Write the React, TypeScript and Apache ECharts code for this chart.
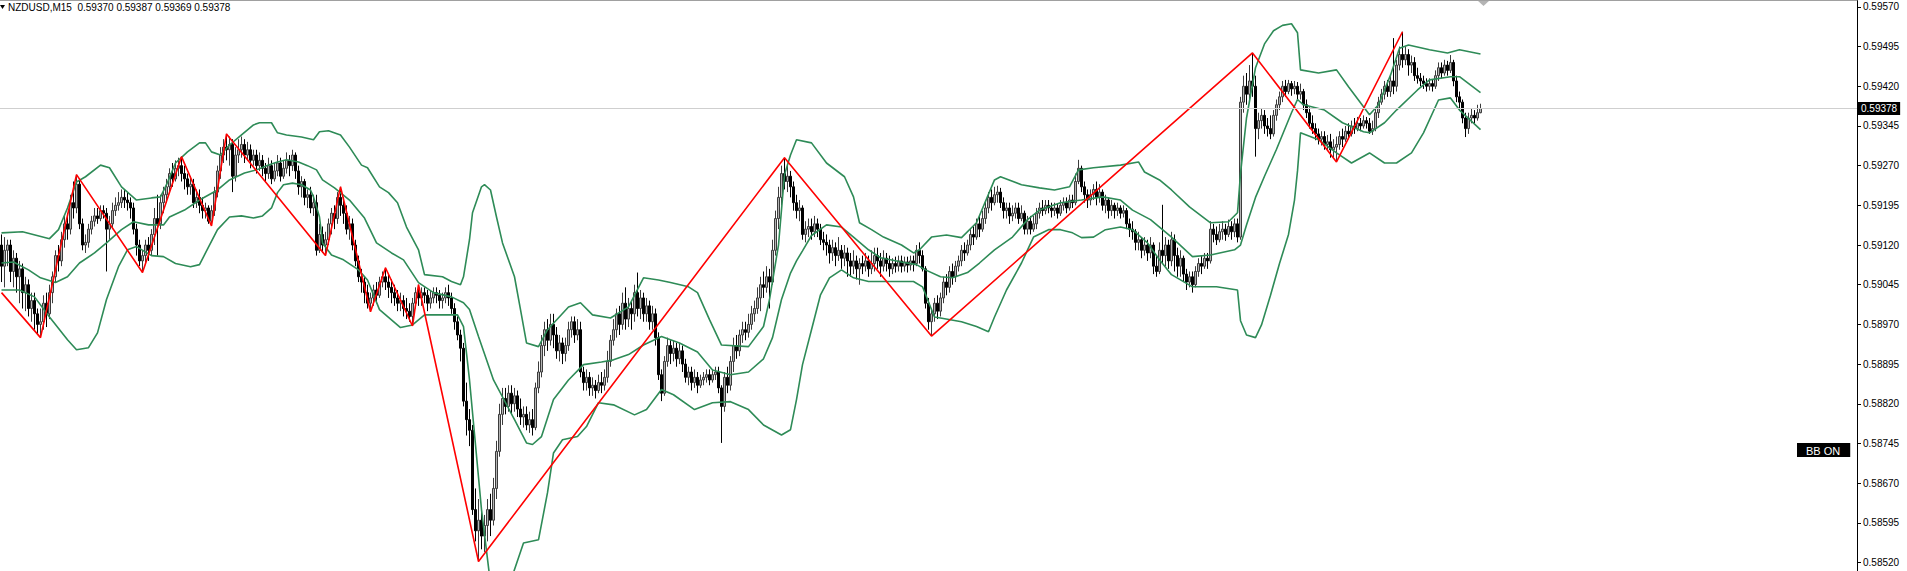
import React, { useEffect, useRef } from "react";
import * as echarts from "echarts";

// ---- chart constants ----
const SYMBOL = "NZDUSD,M15";
const Y_MIN = 0.58504;
const Y_MAX = 0.59583;
const SLOT_COUNT = 619; // bar slots across the plot (right part empty = chart shift)
const PRICE_TICKS = [
  0.5852, 0.58595, 0.5867, 0.58745, 0.5882, 0.58895, 0.5897, 0.59045, 0.5912, 0.59195, 0.5927, 0.59345,
  0.5942, 0.59495, 0.5957,
];

// ---- candles: [open, high, low, close] ----
const CANDLES: number[][] = [
  [0.59120,0.59140,0.59050,0.59080],[0.59080,0.59135,0.59040,0.59110],[0.59110,0.59130,0.59080,0.59120],[0.59120,0.59130,0.59050,0.59070],[0.59070,0.59110,0.59040,0.59095],
  [0.59095,0.59105,0.59030,0.59060],[0.59060,0.59090,0.59010,0.59075],[0.59075,0.59085,0.59000,0.59030],[0.59030,0.59060,0.58995,0.59045],[0.59045,0.59055,0.58985,0.59000],
  [0.59000,0.59030,0.58975,0.59015],[0.59015,0.59030,0.58960,0.58990],[0.58990,0.59000,0.58950,0.58970],[0.58970,0.59000,0.58945,0.58975],[0.58975,0.59025,0.58960,0.59010],
  [0.59010,0.59030,0.58965,0.58990],[0.58990,0.59045,0.58980,0.59030],[0.59030,0.59070,0.59010,0.59060],[0.59060,0.59110,0.59050,0.59100],[0.59100,0.59120,0.59070,0.59090],
  [0.59090,0.59145,0.59080,0.59130],[0.59130,0.59175,0.59115,0.59160],[0.59160,0.59180,0.59130,0.59150],[0.59150,0.59215,0.59140,0.59200],[0.59200,0.59240,0.59170,0.59190],
  [0.59190,0.59253,0.59180,0.59235],[0.59235,0.59245,0.59150,0.59160],[0.59160,0.59170,0.59110,0.59120],[0.59120,0.59140,0.59105,0.59125],[0.59125,0.59160,0.59115,0.59150],
  [0.59150,0.59175,0.59140,0.59165],[0.59165,0.59190,0.59155,0.59175],[0.59175,0.59190,0.59160,0.59170],[0.59170,0.59195,0.59165,0.59185],[0.59185,0.59195,0.59170,0.59180],
  [0.59180,0.59190,0.59070,0.59150],[0.59150,0.59175,0.59130,0.59160],[0.59160,0.59200,0.59150,0.59185],[0.59185,0.59210,0.59175,0.59195],[0.59195,0.59220,0.59185,0.59200],
  [0.59200,0.59225,0.59190,0.59210],[0.59210,0.59225,0.59190,0.59205],[0.59205,0.59220,0.59185,0.59200],[0.59200,0.59210,0.59170,0.59190],[0.59190,0.59200,0.59140,0.59150],
  [0.59150,0.59160,0.59100,0.59120],[0.59120,0.59130,0.59080,0.59090],[0.59090,0.59110,0.59068,0.59100],[0.59100,0.59130,0.59085,0.59120],[0.59120,0.59135,0.59090,0.59110],
  [0.59110,0.59150,0.59100,0.59140],[0.59140,0.59190,0.59120,0.59170],[0.59170,0.59215,0.59100,0.59160],[0.59160,0.59215,0.59150,0.59200],[0.59200,0.59230,0.59180,0.59215],
  [0.59215,0.59245,0.59200,0.59230],[0.59230,0.59265,0.59220,0.59255],[0.59255,0.59275,0.59230,0.59245],[0.59245,0.59280,0.59240,0.59265],[0.59265,0.59285,0.59250,0.59270],
  [0.59270,0.59287,0.59240,0.59255],[0.59255,0.59270,0.59225,0.59245],[0.59245,0.59255,0.59215,0.59230],[0.59230,0.59250,0.59215,0.59235],[0.59235,0.59245,0.59190,0.59200],
  [0.59200,0.59225,0.59190,0.59210],[0.59210,0.59225,0.59180,0.59195],[0.59195,0.59210,0.59170,0.59185],[0.59185,0.59200,0.59170,0.59190],[0.59190,0.59195,0.59160,0.59165],
  [0.59165,0.59195,0.59156,0.59185],[0.59185,0.59230,0.59175,0.59220],[0.59220,0.59270,0.59210,0.59260],[0.59260,0.59305,0.59245,0.59290],[0.59290,0.59320,0.59275,0.59305],
  [0.59305,0.59330,0.59280,0.59300],[0.59300,0.59325,0.59270,0.59310],[0.59310,0.59320,0.59220,0.59250],[0.59250,0.59305,0.59240,0.59290],[0.59290,0.59320,0.59275,0.59300],
  [0.59300,0.59325,0.59285,0.59310],[0.59310,0.59320,0.59275,0.59290],[0.59290,0.59315,0.59280,0.59300],[0.59300,0.59310,0.59265,0.59280],[0.59280,0.59300,0.59270,0.59290],
  [0.59290,0.59300,0.59255,0.59270],[0.59270,0.59295,0.59260,0.59280],[0.59280,0.59290,0.59250,0.59265],[0.59265,0.59275,0.59240,0.59255],[0.59255,0.59285,0.59245,0.59270],
  [0.59270,0.59280,0.59235,0.59245],[0.59245,0.59275,0.59240,0.59260],[0.59260,0.59290,0.59250,0.59275],[0.59275,0.59285,0.59240,0.59250],[0.59250,0.59280,0.59245,0.59265],
  [0.59265,0.59295,0.59255,0.59280],[0.59280,0.59290,0.59250,0.59270],[0.59270,0.59300,0.59260,0.59290],[0.59290,0.59295,0.59245,0.59260],[0.59260,0.59270,0.59215,0.59230],
  [0.59230,0.59250,0.59210,0.59240],[0.59240,0.59245,0.59195,0.59210],[0.59210,0.59225,0.59190,0.59215],[0.59215,0.59230,0.59180,0.59190],[0.59190,0.59215,0.59175,0.59200],
  [0.59200,0.59215,0.59100,0.59110],[0.59110,0.59160,0.59105,0.59140],[0.59140,0.59155,0.59105,0.59120],[0.59120,0.59145,0.59100,0.59130],[0.59130,0.59170,0.59120,0.59160],
  [0.59160,0.59190,0.59140,0.59180],[0.59180,0.59195,0.59150,0.59170],[0.59170,0.59220,0.59160,0.59210],[0.59210,0.59230,0.59175,0.59195],[0.59195,0.59210,0.59160,0.59180],
  [0.59180,0.59195,0.59140,0.59150],[0.59150,0.59175,0.59130,0.59160],[0.59160,0.59170,0.59110,0.59120],[0.59120,0.59130,0.59080,0.59090],[0.59090,0.59100,0.59050,0.59060],
  [0.59060,0.59075,0.59030,0.59050],[0.59050,0.59060,0.59010,0.59030],[0.59030,0.59045,0.59000,0.59010],[0.59010,0.59030,0.58994,0.59020],[0.59020,0.59045,0.59005,0.59035],
  [0.59035,0.59050,0.59010,0.59025],[0.59025,0.59060,0.59020,0.59050],[0.59050,0.59070,0.59040,0.59060],[0.59060,0.59077,0.59035,0.59050],[0.59050,0.59065,0.59020,0.59040],
  [0.59040,0.59055,0.59010,0.59030],[0.59030,0.59045,0.59005,0.59020],[0.59020,0.59035,0.58995,0.59010],[0.59010,0.59030,0.58995,0.59015],[0.59015,0.59025,0.58985,0.59000],
  [0.59000,0.59020,0.58980,0.58995],[0.58995,0.59010,0.58975,0.58985],[0.58985,0.59020,0.58967,0.59010],[0.59010,0.59040,0.59000,0.59030],[0.59030,0.59045,0.59005,0.59020],
  [0.59020,0.59040,0.59005,0.59030],[0.59030,0.59040,0.59010,0.59025],[0.59025,0.59035,0.58995,0.59010],[0.59010,0.59035,0.59000,0.59020],[0.59020,0.59040,0.59010,0.59030],
  [0.59030,0.59040,0.59010,0.59025],[0.59025,0.59035,0.59000,0.59015],[0.59015,0.59030,0.59000,0.59020],[0.59020,0.59040,0.59010,0.59030],[0.59030,0.59045,0.59005,0.59020],
  [0.59020,0.59030,0.58990,0.59000],[0.59000,0.59010,0.58960,0.58975],[0.58975,0.58985,0.58940,0.58950],[0.58950,0.58960,0.58900,0.58925],[0.58925,0.58935,0.58815,0.58825],
  [0.58825,0.58860,0.58760,0.58790],[0.58790,0.58810,0.58740,0.58770],[0.58770,0.58780,0.58610,0.58620],[0.58620,0.58660,0.58560,0.58580],[0.58580,0.58640,0.58522,0.58600],
  [0.58600,0.58620,0.58545,0.58570],[0.58570,0.58610,0.58540,0.58590],[0.58590,0.58640,0.58560,0.58620],[0.58620,0.58650,0.58570,0.58600],[0.58600,0.58680,0.58590,0.58660],
  [0.58660,0.58750,0.58640,0.58730],[0.58730,0.58820,0.58720,0.58800],[0.58800,0.58850,0.58780,0.58830],[0.58830,0.58850,0.58800,0.58815],[0.58815,0.58855,0.58805,0.58840],
  [0.58840,0.58855,0.58800,0.58820],[0.58820,0.58850,0.58805,0.58835],[0.58835,0.58845,0.58795,0.58810],[0.58810,0.58830,0.58780,0.58795],[0.58795,0.58815,0.58775,0.58800],
  [0.58800,0.58815,0.58770,0.58780],[0.58780,0.58805,0.58765,0.58790],[0.58790,0.58810,0.58760,0.58775],[0.58775,0.58860,0.58770,0.58850],[0.58850,0.58900,0.58840,0.58880],
  [0.58880,0.58950,0.58870,0.58930],[0.58930,0.58975,0.58910,0.58960],[0.58960,0.58980,0.58920,0.58940],[0.58940,0.58990,0.58930,0.58970],[0.58970,0.58990,0.58925,0.58950],
  [0.58950,0.58965,0.58905,0.58920],[0.58920,0.58950,0.58900,0.58935],[0.58935,0.58945,0.58895,0.58915],[0.58915,0.58945,0.58900,0.58930],[0.58930,0.58975,0.58920,0.58960],
  [0.58960,0.58985,0.58945,0.58975],[0.58975,0.58985,0.58935,0.58950],[0.58950,0.58980,0.58940,0.58960],[0.58960,0.58975,0.58870,0.58880],[0.58880,0.58890,0.58845,0.58860],
  [0.58860,0.58885,0.58845,0.58870],[0.58870,0.58880,0.58835,0.58850],[0.58850,0.58870,0.58835,0.58855],[0.58855,0.58865,0.58830,0.58845],[0.58845,0.58875,0.58840,0.58860],
  [0.58860,0.58880,0.58840,0.58855],[0.58855,0.58885,0.58845,0.58870],[0.58870,0.58920,0.58860,0.58900],[0.58900,0.58950,0.58890,0.58940],[0.58940,0.58980,0.58930,0.58960],
  [0.58960,0.59000,0.58945,0.58990],[0.58990,0.59005,0.58950,0.58970],[0.58970,0.59030,0.58960,0.59010],[0.59010,0.59040,0.58960,0.58980],[0.58980,0.59020,0.58965,0.59000],
  [0.59000,0.59015,0.58960,0.58990],[0.58990,0.59045,0.58975,0.59030],[0.59030,0.59068,0.58985,0.59000],[0.59000,0.59035,0.58980,0.59020],[0.59020,0.59030,0.58975,0.58990],
  [0.58990,0.59020,0.58975,0.59005],[0.59005,0.59015,0.58960,0.58975],[0.58975,0.59005,0.58960,0.58990],[0.58990,0.59000,0.58930,0.58945],[0.58945,0.58955,0.58865,0.58875],
  [0.58875,0.58885,0.58825,0.58840],[0.58840,0.58910,0.58835,0.58900],[0.58900,0.58945,0.58890,0.58930],[0.58930,0.58940,0.58895,0.58915],[0.58915,0.58940,0.58900,0.58925],
  [0.58925,0.58935,0.58890,0.58905],[0.58905,0.58935,0.58895,0.58920],[0.58920,0.58930,0.58880,0.58895],[0.58895,0.58905,0.58860,0.58870],[0.58870,0.58890,0.58855,0.58880],
  [0.58880,0.58890,0.58845,0.58860],[0.58860,0.58885,0.58850,0.58870],[0.58870,0.58880,0.58840,0.58855],[0.58855,0.58875,0.58850,0.58865],[0.58865,0.58880,0.58855,0.58870],
  [0.58870,0.58885,0.58860,0.58875],[0.58875,0.58885,0.58855,0.58865],[0.58865,0.58885,0.58860,0.58875],[0.58875,0.58890,0.58865,0.58880],[0.58880,0.58890,0.58840,0.58850],
  [0.58850,0.58855,0.58746,0.58815],[0.58815,0.58880,0.58805,0.58870],[0.58870,0.58890,0.58840,0.58855],[0.58855,0.58910,0.58845,0.58900],[0.58900,0.58945,0.58880,0.58930],
  [0.58930,0.58950,0.58905,0.58920],[0.58920,0.58960,0.58910,0.58950],[0.58950,0.58975,0.58935,0.58960],[0.58960,0.58975,0.58940,0.58955],[0.58955,0.58990,0.58945,0.58970],
  [0.58970,0.59005,0.58960,0.58990],[0.58990,0.59015,0.58975,0.59000],[0.59000,0.59040,0.58990,0.59020],[0.59020,0.59060,0.58995,0.59045],[0.59045,0.59070,0.59020,0.59040],
  [0.59040,0.59080,0.59030,0.59060],[0.59060,0.59075,0.59000,0.59050],[0.59050,0.59130,0.59045,0.59110],[0.59110,0.59185,0.59100,0.59170],[0.59170,0.59230,0.59150,0.59210],
  [0.59210,0.59270,0.59195,0.59255],[0.59255,0.59285,0.59225,0.59240],[0.59240,0.59270,0.59220,0.59250],[0.59250,0.59260,0.59210,0.59230],[0.59230,0.59240,0.59185,0.59200],
  [0.59200,0.59215,0.59170,0.59185],[0.59185,0.59205,0.59165,0.59190],[0.59190,0.59195,0.59130,0.59140],[0.59140,0.59165,0.59125,0.59150],[0.59150,0.59170,0.59135,0.59155],
  [0.59155,0.59170,0.59130,0.59145],[0.59145,0.59175,0.59135,0.59160],[0.59160,0.59170,0.59135,0.59150],[0.59150,0.59160,0.59120,0.59130],[0.59130,0.59145,0.59110,0.59125],
  [0.59125,0.59140,0.59100,0.59120],[0.59120,0.59130,0.59085,0.59105],[0.59105,0.59130,0.59090,0.59115],[0.59115,0.59125,0.59080,0.59100],[0.59100,0.59135,0.59090,0.59110],
  [0.59110,0.59120,0.59075,0.59095],[0.59095,0.59120,0.59080,0.59105],[0.59105,0.59115,0.59060,0.59090],[0.59090,0.59105,0.59060,0.59080],[0.59080,0.59110,0.59065,0.59090],
  [0.59090,0.59100,0.59055,0.59075],[0.59075,0.59095,0.59045,0.59085],[0.59085,0.59100,0.59065,0.59080],[0.59080,0.59105,0.59070,0.59090],[0.59090,0.59100,0.59060,0.59075],
  [0.59075,0.59110,0.59065,0.59085],[0.59085,0.59115,0.59070,0.59100],[0.59100,0.59115,0.59075,0.59090],[0.59090,0.59105,0.59060,0.59080],[0.59080,0.59110,0.59070,0.59095],
  [0.59095,0.59105,0.59070,0.59085],[0.59085,0.59100,0.59060,0.59075],[0.59075,0.59095,0.59065,0.59085],[0.59085,0.59098,0.59068,0.59080],[0.59080,0.59100,0.59070,0.59090],
  [0.59090,0.59100,0.59068,0.59080],[0.59080,0.59098,0.59070,0.59088],[0.59088,0.59098,0.59068,0.59082],[0.59082,0.59100,0.59072,0.59090],[0.59090,0.59100,0.59070,0.59085],
  [0.59085,0.59120,0.59080,0.59110],[0.59110,0.59125,0.59085,0.59100],[0.59100,0.59110,0.59070,0.59075],[0.59075,0.59080,0.59000,0.59010],[0.59010,0.59020,0.58960,0.58975],
  [0.58975,0.59000,0.58948,0.58990],[0.58990,0.59020,0.58975,0.59010],[0.59010,0.59025,0.58980,0.58995],[0.58995,0.59030,0.58985,0.59020],[0.59020,0.59060,0.59010,0.59050],
  [0.59050,0.59065,0.59025,0.59040],[0.59040,0.59080,0.59030,0.59070],[0.59070,0.59085,0.59045,0.59060],[0.59060,0.59090,0.59050,0.59080],[0.59080,0.59100,0.59070,0.59090],
  [0.59090,0.59120,0.59080,0.59110],[0.59110,0.59125,0.59090,0.59105],[0.59105,0.59130,0.59100,0.59120],[0.59120,0.59150,0.59110,0.59140],[0.59140,0.59155,0.59120,0.59135],
  [0.59135,0.59170,0.59130,0.59160],[0.59160,0.59175,0.59135,0.59150],[0.59150,0.59185,0.59145,0.59170],[0.59170,0.59205,0.59160,0.59190],[0.59190,0.59220,0.59180,0.59210],
  [0.59210,0.59225,0.59185,0.59200],[0.59200,0.59230,0.59195,0.59215],[0.59215,0.59232,0.59200,0.59220],[0.59220,0.59228,0.59190,0.59200],[0.59200,0.59210,0.59170,0.59185],
  [0.59185,0.59200,0.59170,0.59190],[0.59190,0.59200,0.59160,0.59175],[0.59175,0.59195,0.59165,0.59180],[0.59180,0.59200,0.59170,0.59190],[0.59190,0.59200,0.59160,0.59170],
  [0.59170,0.59195,0.59165,0.59180],[0.59180,0.59185,0.59140,0.59150],[0.59150,0.59175,0.59140,0.59165],[0.59165,0.59175,0.59140,0.59150],[0.59150,0.59175,0.59145,0.59160],
  [0.59160,0.59190,0.59150,0.59180],[0.59180,0.59200,0.59170,0.59190],[0.59190,0.59205,0.59175,0.59185],[0.59185,0.59205,0.59178,0.59195],[0.59195,0.59205,0.59180,0.59190],
  [0.59190,0.59200,0.59172,0.59185],[0.59185,0.59200,0.59175,0.59190],[0.59190,0.59198,0.59170,0.59180],[0.59180,0.59205,0.59175,0.59195],[0.59195,0.59210,0.59185,0.59200],
  [0.59200,0.59210,0.59180,0.59190],[0.59190,0.59215,0.59185,0.59205],[0.59205,0.59215,0.59190,0.59200],[0.59200,0.59255,0.59195,0.59240],[0.59240,0.59281,0.59235,0.59265],
  [0.59265,0.59270,0.59220,0.59230],[0.59230,0.59240,0.59200,0.59215],[0.59215,0.59225,0.59190,0.59205],[0.59205,0.59225,0.59195,0.59215],[0.59215,0.59235,0.59205,0.59225],
  [0.59225,0.59240,0.59195,0.59210],[0.59210,0.59235,0.59200,0.59220],[0.59220,0.59225,0.59185,0.59195],[0.59195,0.59215,0.59180,0.59205],[0.59205,0.59210,0.59170,0.59185],
  [0.59185,0.59205,0.59175,0.59195],[0.59195,0.59200,0.59170,0.59185],[0.59185,0.59200,0.59175,0.59190],[0.59190,0.59195,0.59170,0.59180],[0.59180,0.59195,0.59172,0.59185],
  [0.59185,0.59190,0.59150,0.59160],[0.59160,0.59170,0.59135,0.59150],[0.59150,0.59165,0.59130,0.59145],[0.59145,0.59150,0.59110,0.59125],[0.59125,0.59145,0.59110,0.59130],
  [0.59130,0.59135,0.59095,0.59110],[0.59110,0.59135,0.59100,0.59120],[0.59120,0.59130,0.59090,0.59105],[0.59105,0.59135,0.59095,0.59120],[0.59120,0.59125,0.59065,0.59080],
  [0.59080,0.59100,0.59060,0.59070],[0.59070,0.59125,0.59065,0.59110],[0.59110,0.59196,0.59085,0.59100],[0.59100,0.59135,0.59080,0.59120],[0.59120,0.59130,0.59075,0.59090],
  [0.59090,0.59145,0.59080,0.59130],[0.59130,0.59140,0.59070,0.59100],[0.59100,0.59115,0.59060,0.59080],[0.59080,0.59110,0.59060,0.59095],[0.59095,0.59100,0.59050,0.59065],
  [0.59065,0.59075,0.59035,0.59050],[0.59050,0.59070,0.59040,0.59060],[0.59060,0.59070,0.59030,0.59045],[0.59045,0.59080,0.59040,0.59070],[0.59070,0.59095,0.59060,0.59085],
  [0.59085,0.59100,0.59065,0.59080],[0.59080,0.59105,0.59075,0.59095],[0.59095,0.59105,0.59075,0.59090],[0.59090,0.59165,0.59085,0.59150],[0.59150,0.59160,0.59125,0.59140],
  [0.59140,0.59155,0.59120,0.59130],[0.59130,0.59160,0.59125,0.59145],[0.59145,0.59165,0.59130,0.59150],[0.59150,0.59160,0.59128,0.59140],[0.59140,0.59168,0.59135,0.59155],
  [0.59155,0.59165,0.59130,0.59145],[0.59145,0.59170,0.59135,0.59160],[0.59160,0.59170,0.59125,0.59135],[0.59135,0.59400,0.59130,0.59390],[0.59390,0.59440,0.59370,0.59420],
  [0.59420,0.59445,0.59385,0.59405],[0.59405,0.59460,0.59395,0.59430],[0.59430,0.59483,0.59400,0.59420],[0.59420,0.59440,0.59287,0.59340],[0.59340,0.59370,0.59320,0.59355],
  [0.59355,0.59378,0.59340,0.59365],[0.59365,0.59375,0.59330,0.59345],[0.59345,0.59360,0.59325,0.59340],[0.59340,0.59365,0.59320,0.59330],[0.59330,0.59375,0.59325,0.59365],
  [0.59365,0.59395,0.59355,0.59385],[0.59385,0.59410,0.59375,0.59400],[0.59400,0.59430,0.59390,0.59420],[0.59420,0.59432,0.59400,0.59410],[0.59410,0.59432,0.59405,0.59425],
  [0.59425,0.59430,0.59402,0.59415],[0.59415,0.59430,0.59405,0.59420],[0.59420,0.59428,0.59395,0.59405],[0.59405,0.59425,0.59395,0.59410],[0.59410,0.59415,0.59375,0.59385],
  [0.59385,0.59395,0.59360,0.59370],[0.59370,0.59380,0.59340,0.59350],[0.59350,0.59365,0.59330,0.59340],[0.59340,0.59350,0.59318,0.59330],[0.59330,0.59340,0.59310,0.59320],
  [0.59320,0.59335,0.59308,0.59325],[0.59325,0.59335,0.59300,0.59310],[0.59310,0.59328,0.59300,0.59315],[0.59315,0.59330,0.59285,0.59300],[0.59300,0.59320,0.59285,0.59305],
  [0.59305,0.59325,0.59277,0.59310],[0.59310,0.59335,0.59300,0.59325],[0.59325,0.59340,0.59305,0.59320],[0.59320,0.59345,0.59315,0.59335],[0.59335,0.59350,0.59320,0.59330],
  [0.59330,0.59355,0.59325,0.59345],[0.59345,0.59360,0.59330,0.59340],[0.59340,0.59362,0.59335,0.59350],[0.59350,0.59360,0.59335,0.59345],[0.59345,0.59365,0.59340,0.59355],
  [0.59355,0.59362,0.59340,0.59350],[0.59350,0.59360,0.59330,0.59335],[0.59335,0.59355,0.59328,0.59340],[0.59340,0.59380,0.59335,0.59370],[0.59370,0.59400,0.59360,0.59390],
  [0.59390,0.59415,0.59385,0.59405],[0.59405,0.59430,0.59395,0.59420],[0.59420,0.59432,0.59400,0.59410],[0.59410,0.59440,0.59400,0.59430],[0.59430,0.59511,0.59405,0.59420],
  [0.59420,0.59470,0.59410,0.59460],[0.59460,0.59495,0.59450,0.59480],[0.59480,0.59523,0.59455,0.59470],[0.59470,0.59495,0.59460,0.59480],[0.59480,0.59490,0.59440,0.59460],
  [0.59460,0.59478,0.59445,0.59465],[0.59465,0.59475,0.59430,0.59440],[0.59440,0.59455,0.59425,0.59435],[0.59435,0.59445,0.59420,0.59430],[0.59430,0.59440,0.59415,0.59425],
  [0.59425,0.59435,0.59410,0.59420],[0.59420,0.59435,0.59412,0.59425],[0.59425,0.59432,0.59410,0.59420],[0.59420,0.59450,0.59415,0.59440],[0.59440,0.59465,0.59430,0.59455],
  [0.59455,0.59465,0.59435,0.59445],[0.59445,0.59470,0.59440,0.59460],[0.59460,0.59468,0.59440,0.59450],[0.59450,0.59479,0.59445,0.59465],[0.59465,0.59470,0.59420,0.59430],
  [0.59430,0.59440,0.59390,0.59400],[0.59400,0.59410,0.59375,0.59390],[0.59390,0.59395,0.59350,0.59360],[0.59360,0.59370,0.59324,0.59340],[0.59340,0.59370,0.59330,0.59360],
  [0.59360,0.59378,0.59350,0.59365],[0.59365,0.59375,0.59350,0.59360],[0.59360,0.59385,0.59355,0.59370],[0.59370,0.59387,0.59369,0.59378],
];

// ---- ZigZag pivots: [bar index, price] ----
const ZIGZAG: number[][] = [
  [0, 0.5903], [13, 0.58945], [25, 0.59253], [47, 0.59068], [60, 0.59287], [70, 0.59156], [75, 0.5933],
  [108, 0.591], [113, 0.5923], [123, 0.58994], [128, 0.59077], [137, 0.58967], [139, 0.59045], [159, 0.58522],
  [261, 0.59285], [310, 0.58948], [417, 0.59483], [445, 0.59277], [467, 0.59523],
];

// ---- Bollinger bands: [bar index, price] ----
const BB_UPPER: number[][] = [
  [0,0.59143],[7,0.59145],[16,0.59132],[19,0.59149],[22,0.5919],[25,0.59239],[28,0.59249],[33,0.59271],[36,0.59266],[40,0.5923],
  [45,0.59205],[50,0.59209],[53,0.59211],[55,0.59234],[58,0.59275],[62,0.59296],[66,0.59313],[68,0.59313],[70,0.59296],[73,0.5929],
  [76,0.59309],[80,0.59328],[84,0.59347],[86,0.59351],[90,0.59351],[92,0.59332],[95,0.59328],[100,0.59324],[104,0.59319],[106,0.59334],
  [109,0.59336],[113,0.59328],[116,0.59305],[120,0.59271],[122,0.59266],[126,0.5923],[129,0.59219],[132,0.592],[135,0.59154],[139,0.59111],
  [141,0.59064],[147,0.5906],[150,0.59051],[153,0.59045],[154,0.5906],[156,0.5913],[157,0.59181],[160,0.5923],[161,0.59234],[163,0.59224],
  [165,0.59173],[167,0.59124],[171,0.5906],[173,0.58998],[175,0.58935],[179,0.58928],[182,0.5896],[189,0.59003],[193,0.59011],[197,0.58988],
  [203,0.58982],[209,0.59003],[214,0.59058],[219,0.59054],[223,0.59049],[229,0.59041],[232,0.5903],[236,0.58979],[240,0.58931],[249,0.58928],
  [254,0.58966],[256,0.59017],[259,0.5912],[261,0.59253],[263,0.5929],[265,0.59319],[270,0.59313],[275,0.59275],[281,0.59249],[284,0.59211],
  [286,0.59162],[290,0.59149],[294,0.59135],[300,0.5912],[304,0.59105],[306,0.59111],[310,0.59135],[315,0.59139],[320,0.59134],[325,0.59162],
  [331,0.59243],[333,0.59249],[340,0.59234],[346,0.59228],[351,0.59224],[356,0.5923],[359,0.59262],[364,0.59266],[373,0.59271],[379,0.59277],
  [381,0.59258],[386,0.59243],[390,0.59224],[396,0.59192],[403,0.59162],[409,0.59164],[412,0.59181],[413,0.59255],[415,0.5936],[418,0.59455],
  [421,0.595],[424,0.59525],[427,0.59535],[430,0.59538],[432,0.59521],[433,0.59451],[439,0.59445],[445,0.59451],[449,0.59419],[456,0.59366],
  [459,0.59385],[463,0.59441],[466,0.59492],[469,0.59498],[476,0.59489],[482,0.59483],[486,0.59489],[493,0.59481],
];
const BB_MIDDLE: number[][] = [
  [0,0.59086],[4,0.59088],[9,0.59073],[13,0.59058],[18,0.59049],[22,0.5906],[26,0.59086],[31,0.59105],[35,0.59124],[40,0.59149],
  [44,0.59164],[49,0.59158],[54,0.59158],[56,0.59173],[61,0.59186],[66,0.59205],[72,0.59224],[76,0.59243],[81,0.59256],[85,0.59262],
  [89,0.59271],[92,0.59277],[95,0.59281],[99,0.59277],[102,0.5927],[105,0.59262],[107,0.59243],[111,0.59228],[116,0.59205],[121,0.59171],
  [125,0.59124],[130,0.59105],[134,0.59092],[139,0.59049],[144,0.5903],[150,0.59022],[154,0.59011],[156,0.58998],[159,0.58947],[164,0.58865],
  [171,0.5879],[175,0.58746],[177,0.58743],[180,0.58758],[184,0.58828],[189,0.58865],[194,0.58894],[200,0.58899],[204,0.58903],[209,0.58913],
  [214,0.58931],[220,0.58947],[226,0.58935],[232,0.58918],[237,0.58884],[243,0.58875],[249,0.5888],[254,0.58905],[257,0.58945],[260,0.59017],
  [263,0.59067],[265,0.5909],[267,0.59109],[270,0.59138],[275,0.59158],[280,0.59154],[284,0.59135],[289,0.59111],[293,0.59096],[300,0.59088],
  [305,0.59083],[308,0.59073],[313,0.5906],[317,0.59058],[322,0.59068],[326,0.59086],[331,0.59111],[337,0.59135],[342,0.59168],[346,0.59186],
  [353,0.592],[360,0.59205],[367,0.59211],[373,0.59205],[377,0.59186],[383,0.59168],[386,0.59154],[390,0.59135],[397,0.59098],[403,0.59101],
  [411,0.59111],[413,0.5912],[415,0.59158],[418,0.5921],[421,0.5925],[425,0.59301],[430,0.5937],[432,0.59395],[434,0.59385],[441,0.59375],
  [447,0.59351],[454,0.59334],[456,0.59332],[461,0.59351],[465,0.59375],[472,0.59413],[476,0.59432],[483,0.59438],[486,0.59438],[493,0.59408],
];
const BB_LOWER: number[][] = [
  [0,0.59035],[6,0.59035],[11,0.59022],[16,0.58984],[22,0.58941],[25,0.58922],[29,0.58926],[32,0.58954],[35,0.59017],[39,0.59079],
  [42,0.59111],[45,0.59117],[50,0.591],[54,0.59098],[58,0.59085],[63,0.59079],[66,0.59083],[68,0.59105],[72,0.59149],[76,0.59173],
  [80,0.59175],[84,0.59171],[87,0.59175],[90,0.5919],[92,0.59219],[94,0.59234],[97,0.59237],[100,0.59234],[103,0.59224],[104,0.59211],
  [106,0.59173],[107,0.59124],[110,0.59101],[114,0.59092],[119,0.59073],[122,0.59054],[126,0.58998],[133,0.58964],[137,0.58969],[141,0.58988],
  [152,0.58988],[154,0.58966],[156,0.58865],[160,0.5862],[163,0.5848],[166,0.5842],[170,0.5849],[174,0.58557],[179,0.58563],[182,0.58652],
  [184,0.58727],[187,0.58752],[192,0.58758],[195,0.58777],[199,0.58822],[204,0.58818],[211,0.58799],[215,0.58809],[220,0.58847],[224,0.58837],
  [231,0.58809],[237,0.58822],[243,0.58824],[249,0.58809],[254,0.5878],[260,0.58761],[263,0.58771],[265,0.58828],[267,0.58894],[270,0.5896],
  [273,0.59026],[276,0.59058],[280,0.59073],[284,0.59058],[289,0.59051],[297,0.59051],[304,0.59051],[307,0.59041],[311,0.58984],[313,0.58982],
  [320,0.58975],[325,0.58966],[329,0.58956],[331,0.58984],[335,0.59035],[340,0.59086],[344,0.59135],[349,0.59149],[353,0.59149],[357,0.59143],
  [360,0.59134],[364,0.59135],[368,0.59149],[373,0.59154],[377,0.59149],[382,0.59124],[386,0.59092],[390,0.59064],[397,0.59041],[405,0.59041],
  [412,0.59035],[413,0.58977],[415,0.5895],[418,0.58945],[420,0.58969],[423,0.59025],[426,0.59085],[429,0.5914],[431,0.59205],[432,0.5926],
  [433,0.59332],[439,0.59319],[445,0.59294],[450,0.59275],[456,0.59294],[461,0.59275],[465,0.59275],[470,0.59294],[474,0.59332],[479,0.59394],
  [483,0.59398],[486,0.59375],[493,0.59338],
];

const FONT = "Liberation Sans, Arial, sans-serif";

export default function App() {
  const ref = useRef<HTMLDivElement>(null);

  useEffect(() => {
    if (!ref.current) return;
    const chart = echarts.init(ref.current, null, { renderer: "svg" });
    const categories = Array.from({ length: SLOT_COUNT }, (_, i) => String(i));
    const candleData = CANDLES.map(([o, h, l, c]) => [o, c, l, h]);
    const last = CANDLES[CANDLES.length - 1];
    const currentPrice = last[3];
    const title = `${SYMBOL}  ${last.map((v) => v.toFixed(5)).join(" ")}`;

    const bandSeries = (name: string, data: number[][]) => ({
      name,
      type: "line",
      data,
      symbol: "none",
      showSymbol: false,
      silent: true,
      z: 3,
      lineStyle: { color: "#2e8b57", width: 1.6 },
    });

    chart.setOption({
      animation: false,
      backgroundColor: "#ffffff",
      grid: { left: 0, right: 50, top: 0, bottom: 0, containLabel: false },
      xAxis: {
        type: "category",
        data: categories,
        position: "top",
        boundaryGap: true,
        axisLine: { show: true, onZero: false, lineStyle: { color: "#a0a0a0", width: 1 } },
        axisTick: { show: false },
        axisLabel: { show: false },
        splitLine: { show: false },
      },
      yAxis: {
        type: "value",
        position: "right",
        min: Y_MIN,
        max: Y_MAX,
        axisLine: { show: true, lineStyle: { color: "#000", width: 1 } },
        axisTick: { show: true, length: 4, customValues: PRICE_TICKS, lineStyle: { color: "#000" } },
        axisLabel: {
          show: true,
          customValues: PRICE_TICKS,
          formatter: (v: number) => v.toFixed(5),
          color: "#000",
          fontSize: 10,
          fontFamily: FONT,
          margin: 6,
        },
        splitLine: { show: false },
      },
      series: [
        {
          name: "Bid line",
          type: "line",
          data: [],
          symbol: "none",
          silent: true,
          z: 1,
          markLine: {
            silent: true,
            precision: 5,
            symbol: ["none", "none"],
            data: [{ yAxis: currentPrice }],
            lineStyle: { color: "#cfcfcf", type: "solid", width: 1 },
            label: {
              show: true,
              position: "end",
              distance: 1,
              formatter: currentPrice.toFixed(5),
              color: "#ffffff",
              backgroundColor: "#000000",
              padding: [2, 3, 1, 3],
              fontSize: 10,
              fontFamily: FONT,
            },
          },
        },
        {
          name: SYMBOL,
          type: "candlestick",
          data: candleData,
          barWidth: 1.8,
          silent: true,
          z: 2,
          itemStyle: {
            color: "#b4b4b4",
            color0: "#000000",
            borderColor: "#3c3c3c",
            borderColor0: "#000000",
            borderWidth: 1,
          },
        },
        bandSeries("BB upper", BB_UPPER),
        bandSeries("BB middle", BB_MIDDLE),
        bandSeries("BB lower", BB_LOWER),
        {
          name: "ZigZag",
          type: "line",
          data: ZIGZAG,
          symbol: "none",
          showSymbol: false,
          silent: true,
          z: 4,
          lineStyle: { color: "#ff0000", width: 1.6 },
        },
      ],
      graphic: [
        {
          type: "polygon",
          shape: { points: [[0, 5], [5, 5], [2.5, 9]] },
          style: { fill: "#000" },
          silent: true,
        },
        {
          type: "text",
          x: 8,
          y: 2,
          style: { text: title, fill: "#000", fontSize: 10, fontFamily: FONT },
          silent: true,
        },
        {
          type: "polygon",
          shape: { points: [[1477, 0], [1490, 0], [1483.5, 6]] },
          style: { fill: "#b4b4b4" },
          silent: true,
        },
        {
          type: "text",
          x: 1797,
          y: 443,
          style: {
            text: "BB ON",
            fill: "#ffffff",
            backgroundColor: "#000000",
            padding: [2, 10, 1, 9],
            fontSize: 11,
            fontFamily: FONT,
          },
          silent: true,
        },
      ],
    });

    return () => chart.dispose();
  }, []);

  return <div ref={ref} style={{ position: "absolute", left: 0, top: 0, width: 1907, height: 571 }} />;
}
